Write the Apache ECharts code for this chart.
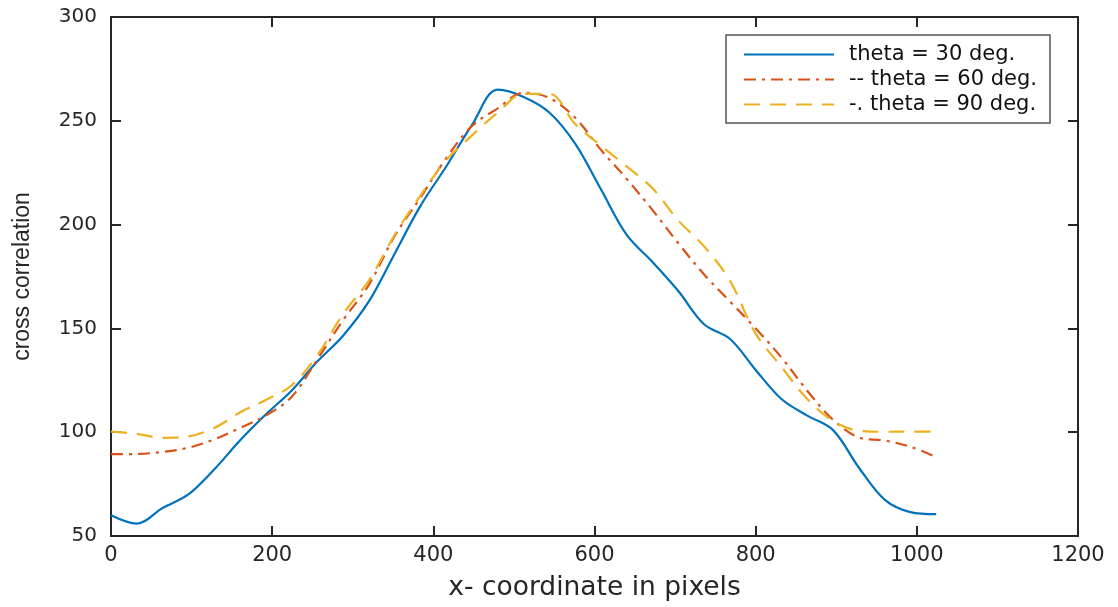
<!DOCTYPE html>
<html>
<head>
<meta charset="utf-8">
<script src="https://cdn.jsdelivr.net/npm/echarts@6/dist/echarts.min.js"></script>
<style>html,body{margin:0;padding:0;background:#fff}#c{width:1118px;height:607px}</style>
</head>
<body>
<div id="c"></div>
<script>
const xPixels = [0,32,64,96,128,160,192,224,256,288,320,352,384,416,448,480,512,544,576,608,640,672,704,736,768,800,832,864,896,928,960,992,1024];
const theta30 = [60,56,63.5,70,82,96,108.5,120,134,146.5,163,186,209,228,248,265,261.5,254,239,217,195,182,168,152,145,130,116,108,101,83,67.5,61.5,60.5];
const theta60 = [89.4,89.5,90.5,92.5,96.5,102,108,117,135,154,171,194.5,213,232,247.5,256,263.5,261,251.5,236,222,207,191,176,163,150,136,120,106,97.5,96,93,88];
const theta90 = [100.3,99.2,97.3,98,102,109.5,115.5,122.5,137,157,173,195,214,231,243,254,263,263,248.5,238,228,217.5,202,189.5,173,147.5,131.5,116,105.4,100.7,100.2,100.3,100.2];
const seriesNames = ['theta = 30 deg.', '-- theta = 60 deg.', '-. theta = 90 deg.'];
const xTicks = {min:0, max:1200, interval:200};
const yTicks = {min:50, max:300, interval:50};

const pairs = ys => xPixels.map((x,i)=>[x, ys[i]]);
const axisCol = '#262626';
const wideFont = 'DejaVu Sans, Verdana, sans-serif';
const chart = echarts.init(document.getElementById('c'), null, {renderer:'canvas'});
const hidden = {show:false};
const plain = v => String(v);
chart.setOption({
  animation:false,
  backgroundColor:'#fff',
  grid:{left:111, right:40, top:17, bottom:66, containLabel:false},
  legend:{
    orient:'vertical', right:68, top:35,
    backgroundColor:'#fff', borderColor:'#555', borderWidth:1.5,
    padding:[9,13,8,17], itemGap:4,
    itemWidth:90, itemHeight:14,
    itemStyle:{opacity:0},
    lineStyle:{width:2},
    textStyle:{fontFamily:wideFont, fontSize:21, color:'#111', padding:[0,0,0,10]},
    data:seriesNames
  },
  xAxis:[{
    type:'value', min:xTicks.min, max:xTicks.max, interval:xTicks.interval,
    name:'x- coordinate in pixels', nameLocation:'middle', nameGap:39,
    nameTextStyle:{fontFamily:wideFont, fontSize:26.5, color:axisCol},
    axisLine:{show:true, onZero:false, lineStyle:{color:axisCol, width:2}},
    axisTick:{show:true, inside:true, length:10, lineStyle:{color:axisCol, width:2}},
    axisLabel:{fontFamily:wideFont, fontSize:21, color:axisCol, margin:9, formatter:plain},
    splitLine:hidden
  },{
    type:'value', position:'top', min:xTicks.min, max:xTicks.max, interval:xTicks.interval,
    axisLine:{show:true, onZero:false, lineStyle:{color:axisCol, width:2}},
    axisTick:{show:true, inside:true, length:10, lineStyle:{color:axisCol, width:2}},
    axisLabel:hidden, splitLine:hidden
  }],
  yAxis:[{
    type:'value', min:yTicks.min, max:yTicks.max, interval:yTicks.interval,
    name:'cross correlation', nameLocation:'middle', nameGap:77, nameRotate:90,
    nameTextStyle:{fontFamily:'Liberation Sans, Arial, sans-serif', fontSize:23, color:axisCol},
    axisLine:{show:true, onZero:false, lineStyle:{color:axisCol, width:2}},
    axisTick:{show:true, inside:true, length:10, lineStyle:{color:axisCol, width:2}},
    axisLabel:{fontFamily:wideFont, fontSize:20, color:axisCol, margin:14, formatter:plain},
    splitLine:hidden
  },{
    type:'value', position:'right', min:yTicks.min, max:yTicks.max, interval:yTicks.interval,
    axisLine:{show:true, onZero:false, lineStyle:{color:axisCol, width:2}},
    axisTick:{show:true, inside:true, length:10, lineStyle:{color:axisCol, width:2}},
    axisLabel:hidden, splitLine:hidden
  }],
  series:[
    {name:seriesNames[0], type:'line', data:pairs(theta30), smooth:0.35, symbol:'none',
     lineStyle:{color:'#0072BD', width:2.2}, itemStyle:{color:'#0072BD'}},
    {name:seriesNames[1], type:'line', data:pairs(theta60), smooth:0.35, symbol:'none',
     lineStyle:{color:'#D95319', width:2.2, type:[12,6,3,6]}, itemStyle:{color:'#D95319'}},
    {name:seriesNames[2], type:'line', data:pairs(theta90), smooth:0.35, symbol:'none',
     lineStyle:{color:'#EDB120', width:2.2, type:[16,10]}, itemStyle:{color:'#EDB120'}}
  ]
});
</script>
</body>
</html>
